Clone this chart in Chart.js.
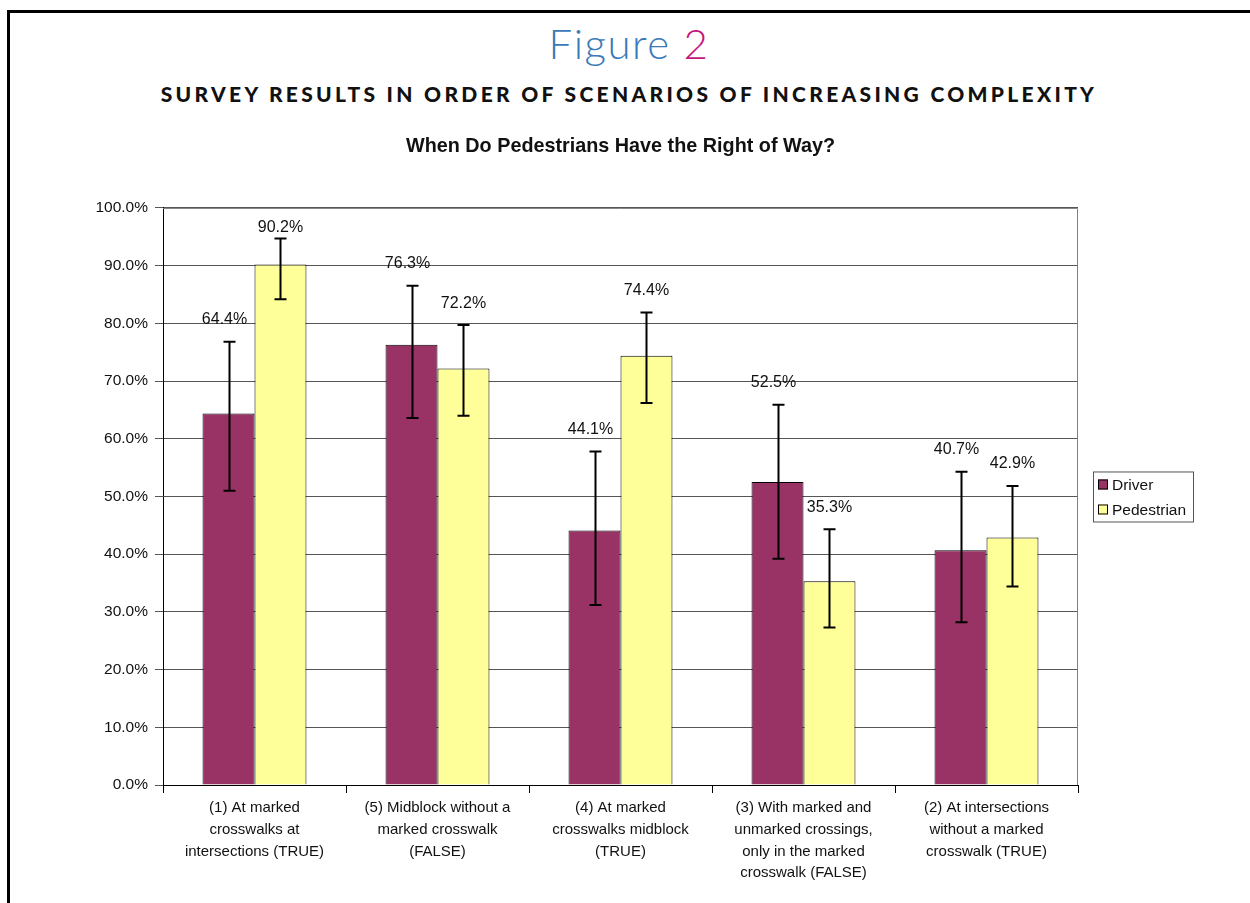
<!DOCTYPE html>
<html>
<head>
<meta charset="utf-8">
<script src="https://cdn.jsdelivr.net/npm/chart.js@4/dist/chart.umd.min.js"></script>
<style>
  html, body { margin:0; padding:0; background:#fff; overflow:hidden; }
  body { width:1250px; height:903px; position:relative; }
  #frame { position:absolute; left:7px; top:10px; width:1400px; height:1000px; border:3px solid #000; }
  #fig { position:absolute; left:4px; top:18px; width:1250px; text-align:center;
         font-family:'Lato','Open Sans',sans-serif; font-weight:300; font-size:42px; line-height:50px; color:#3a7ab8; letter-spacing:1.5px; }
  #fig span { color:#c4167c; }
  #sub { position:absolute; left:4px; top:80px; width:1250px; text-align:center;
         font-family:'Lato','Open Sans',sans-serif; font-weight:900; font-size:21px; line-height:28px;
         letter-spacing:3.3px; color:#111; }
  #chart { position:absolute; left:0; top:120px; }
</style>
</head>
<body>
<div id="frame"></div>
<div id="fig">Figure <span>2</span></div>
<div id="sub">SURVEY RESULTS IN ORDER OF SCENARIOS OF INCREASING COMPLEXITY</div>
<canvas id="chart" width="1250" height="783"></canvas>
<script>
// DATA
const categories = [
  ['(1) At marked', 'crosswalks at', 'intersections (TRUE)'],
  ['(5) Midblock without a', 'marked crosswalk', '(FALSE)'],
  ['(4) At marked', 'crosswalks midblock', '(TRUE)'],
  ['(3) With marked and', 'unmarked crossings,', 'only in the marked', 'crosswalk (FALSE)'],
  ['(2) At intersections', 'without a marked', 'crosswalk (TRUE)']
];
const driver     = [64.4, 76.3, 44.1, 52.5, 40.7];
const pedestrian = [90.2, 72.2, 74.4, 35.3, 42.9];
// error bar ends (low / high)
const driverLow  = [51.0, 63.6, 31.2, 39.2, 28.2];
const driverHigh = [76.8, 86.5, 57.8, 65.9, 54.3];
const pedLow     = [84.2, 64.0, 66.2, 27.3, 34.4];
const pedHigh    = [94.7, 79.7, 81.9, 44.3, 51.8];
const yTicks     = [0, 10, 20, 30, 40, 50, 60, 70, 80, 90, 100];

const FONT = "'Liberation Sans', Arial, sans-serif";
const DRIVER_COLOR = '#993366', PED_COLOR = '#ffff99';

// error bars, value labels, plot border and boxed legend
const overlay = {
  id: 'overlay',
  afterDatasetsDraw(chart) {
    const ctx = chart.ctx, y = chart.scales.y, a = chart.chartArea;
    ctx.save();
    // plot area border (top / right)
    ctx.strokeStyle = '#808080'; ctx.lineWidth = 1;
    ctx.beginPath();
    ctx.moveTo(a.left, a.top + 0.5); ctx.lineTo(a.right - 0.5, a.top + 0.5);
    ctx.lineTo(a.right - 0.5, a.bottom);
    ctx.stroke();

    const ends = [[driverLow, driverHigh], [pedLow, pedHigh]];
    ends.forEach((pair, di) => {
      chart.getDatasetMeta(di).data.forEach((bar, i) => {
        const x  = Math.round(bar.x) + 0.5;
        const yl = y.getPixelForValue(pair[0][i]);
        const yh = y.getPixelForValue(pair[1][i]);
        ctx.strokeStyle = '#000'; ctx.lineWidth = 2;
        ctx.beginPath();
        ctx.moveTo(x, yh); ctx.lineTo(x, yl);
        ctx.moveTo(x - 6, yh); ctx.lineTo(x + 6, yh);
        ctx.moveTo(x - 6, yl); ctx.lineTo(x + 6, yl);
        ctx.stroke();
        // value label
        const v = chart.data.datasets[di].data[i];
        ctx.fillStyle = '#111';
        ctx.font = '16px ' + FONT;
        ctx.textAlign = 'center'; ctx.textBaseline = 'middle';
        ctx.fillText(v.toFixed(1) + '%', bar.x - (di === 0 ? 4 : 0), Math.max(yh - 22, a.top + 20));
      });
    });

    // legend box
    const lx = a.right + 15, ly = (a.top + a.bottom) / 2 - 25;
    ctx.strokeStyle = '#555'; ctx.lineWidth = 1;
    ctx.strokeRect(lx + 0.5, ly + 0.5, 100, 50);
    chart.data.datasets.forEach((ds, i) => {
      const cy = ly + 13 + i * 25;
      ctx.fillStyle = ds.backgroundColor;
      ctx.fillRect(lx + 5, cy - 5, 10, 10);
      ctx.strokeStyle = '#000';
      ctx.strokeRect(lx + 5.5, cy - 4.5, 9, 9);
      ctx.fillStyle = '#111';
      ctx.font = '15.5px ' + FONT;
      ctx.textAlign = 'left'; ctx.textBaseline = 'middle';
      ctx.fillText(ds.label, lx + 19, cy + 1);
    });
    ctx.restore();
  }
};

new Chart(document.getElementById('chart'), {
  type: 'bar',
  data: {
    labels: categories,
    datasets: [
      { label: 'Driver', data: driver, backgroundColor: DRIVER_COLOR, borderColor: '#000', borderWidth: 1 },
      { label: 'Pedestrian', data: pedestrian, backgroundColor: PED_COLOR, borderColor: '#000', borderWidth: 1 }
    ]
  },
  options: {
    responsive: false,
    animation: false,
    devicePixelRatio: 1,
    layout: { padding: { left: 0, right: 172, top: 0, bottom: 0 } },
    datasets: { bar: { categoryPercentage: 0.568, barPercentage: 1.0 } },
    plugins: {
      legend: { display: false },
      tooltip: { enabled: false },
      title: {
        display: true,
        fullSize: false,
        text: 'When Do Pedestrians Have the Right of Way?',
        color: '#111',
        font: { family: FONT, size: 19.8, weight: 'bold', lineHeight: 1.2 },
        padding: { top: 15, bottom: 49.2 }
      }
    },
    scales: {
      x: {
        afterFit(s) { s.height = 118; },
        grid: { offset: true, drawOnChartArea: false, drawTicks: true, tickLength: 8, color: '#000' },
        border: { color: '#000', width: 1 },
        ticks: { color: '#111', autoSkip: false, maxRotation: 0, padding: 4,
                 font: { family: FONT, size: 15, lineHeight: 1.45 } }
      },
      y: {
        min: 0, max: 100,
        afterFit(s) { s.width = 163; },
        afterBuildTicks(s) { s.ticks = yTicks.map(v => ({ value: v })); },
        grid: { color: '#555', tickLength: 8 },
        border: { color: '#000', width: 1 },
        ticks: { color: '#111', padding: 7, font: { family: FONT, size: 15.5 },
                 callback: v => v.toFixed(1) + '%' }
      }
    }
  },
  plugins: [overlay]
});
</script>
</body>
</html>
